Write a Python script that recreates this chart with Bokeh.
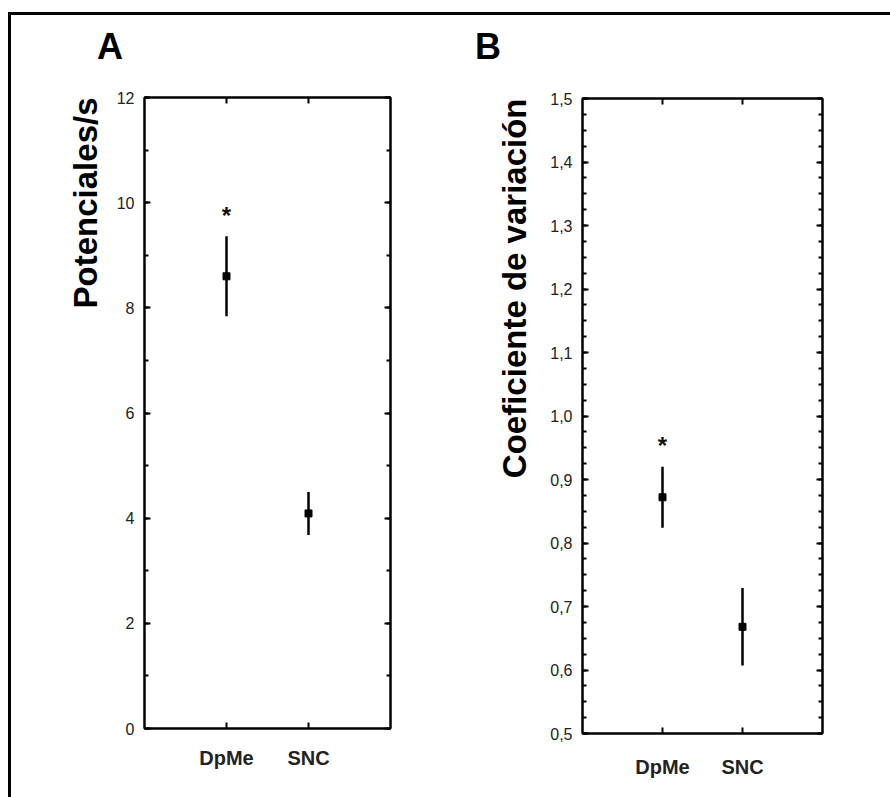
from bokeh.plotting import figure
from bokeh.models import (FactorRange, Range1d, SingleIntervalTicker, LinearAxis,
                          CategoricalAxis, CustomJSTickFormatter, ColumnDataSource,
                          Title, Div)
from bokeh.layouts import row, column
from bokeh.embed import file_html
from bokeh.resources import INLINE
from bokeh.core.properties import value

# ---------------- data ----------------
categories = ["DpMe", "SNC"]

rate_mean = [8.60, 4.09]      # Potenciales/s
rate_err = [0.76, 0.41]

cv_mean = [0.872, 0.668]      # Coeficiente de variación
cv_err = [0.048, 0.061]

significant = ["*", ""]

rate_range = (0, 12)
rate_tick_step = 2
cv_range = (0.5, 1.5)
cv_tick_step = 0.1

FONT = "Liberation Sans"


def make_panel(ylabel, means, errs, yrange, step, n_minor, fmt_js,
               width, height, mb_left, mb_right, mb_top, mb_bottom,
               ylabel_standoff, xlabel_standoff):
    lower = [m - e for m, e in zip(means, errs)]
    upper = [m + e for m, e in zip(means, errs)]
    src = ColumnDataSource(dict(cat=categories, mean=means, lo=lower, hi=upper))
    sig_src = ColumnDataSource(dict(
        cat=[c for c, s in zip(categories, significant) if s],
        hi=[h for h, s in zip(upper, significant) if s],
        sig=[s for s in significant if s]))

    p = figure(x_range=FactorRange(factors=categories, range_padding=0.5),
               y_range=Range1d(*yrange), width=width, height=height,
               output_backend="svg", toolbar_location=None,
               min_border_left=mb_left, min_border_right=mb_right,
               min_border_top=mb_top, min_border_bottom=mb_bottom)
    p.background_fill_color = "white"
    p.border_fill_color = "white"
    p.xgrid.visible = False
    p.ygrid.visible = False
    p.outline_line_color = "black"
    p.outline_line_width = 2

    ticker = SingleIntervalTicker(interval=step, num_minor_ticks=n_minor)
    fmt = CustomJSTickFormatter(code=fmt_js)

    yax = p.yaxis[0]
    yax.ticker = ticker
    yax.formatter = fmt
    yax.major_label_text_font = FONT
    yax.major_label_text_font_size = "16px"
    yax.major_label_text_color = "#222222"
    yax.major_label_standoff = 10

    xax = p.xaxis[0]
    xax.major_label_text_font = FONT
    xax.major_label_text_font_size = "20px"
    xax.major_label_text_font_style = "bold"
    xax.major_label_text_color = "#222222"
    xax.major_label_standoff = xlabel_standoff

    # mirrored spines: ticks only, labels not painted
    rax = LinearAxis(ticker=ticker, major_label_text_color=None,
                     major_label_text_font_size="1px", major_label_standoff=0)
    tax = CategoricalAxis(major_label_text_color=None,
                          major_label_text_font_size="1px", major_label_standoff=0)
    p.add_layout(rax, "right")
    p.add_layout(tax, "above")

    for ax in (yax, xax, rax, tax):
        ax.axis_line_width = 2
        ax.axis_line_color = "black"
        ax.major_tick_in = 6
        ax.major_tick_out = 0
        ax.major_tick_line_width = 2
        ax.minor_tick_in = 4
        ax.minor_tick_out = 0
        ax.minor_tick_line_width = 2

    # y-axis title, aligned to the top end of the axis
    p.add_layout(Title(text=ylabel, align="right", vertical_align="middle",
                       standoff=ylabel_standoff, text_font=FONT,
                       text_font_size="33px", text_font_style="bold",
                       text_color="black"), "left")

    p.segment(x0="cat", y0="lo", x1="cat", y1="hi", source=src,
              line_color="black", line_width=2.5)
    p.scatter(x="cat", y="mean", source=src, marker="square", size=7,
              fill_color="black", line_color="black")
    p.text(x="cat", y="hi", text="sig", source=sig_src, text_align="center",
           text_baseline="alphabetic", y_offset=-21, text_font=value(FONT),
           text_font_size="24px", text_font_style="bold", text_color="#111111")
    return p


def letter_div(letter, width, left):
    html = ('<div style="font-family: \'Liberation Sans\', Arial, sans-serif; '
            'font-size: 36px; font-weight: bold; line-height: 41px; '
            'color: black; margin: 0; padding: 0;">%s</div>' % letter)
    return Div(text=html, width=width - left, height=41, margin=(11, 0, 0, left))


pA = make_panel("Potenciales/s", rate_mean, rate_err, rate_range,
                rate_tick_step, 2, "return tick.toFixed(0);",
                width=434, height=730, mb_left=133, mb_right=55, mb_top=30,
                mb_bottom=69, ylabel_standoff=18, xlabel_standoff=18)

pB = make_panel("Coeficiente de variación", cv_mean, cv_err, cv_range,
                cv_tick_step, 4, "return tick.toFixed(1).replace('.', ',');",
                width=445, height=730, mb_left=137, mb_right=68, mb_top=31,
                mb_bottom=64, ylabel_standoff=28, xlabel_standoff=22)

colA = column(letter_div("A", 434, 86), pA, spacing=0)
colB = column(letter_div("B", 445, 30), pB, spacing=0)

layout = row(colA, colB, spacing=0,
             styles={"margin-left": "8px", "margin-top": "12px",
                     "border-left": "3px solid black",
                     "border-top": "3px solid black"})

open("out.html", "w").write(file_html(layout, INLINE))
